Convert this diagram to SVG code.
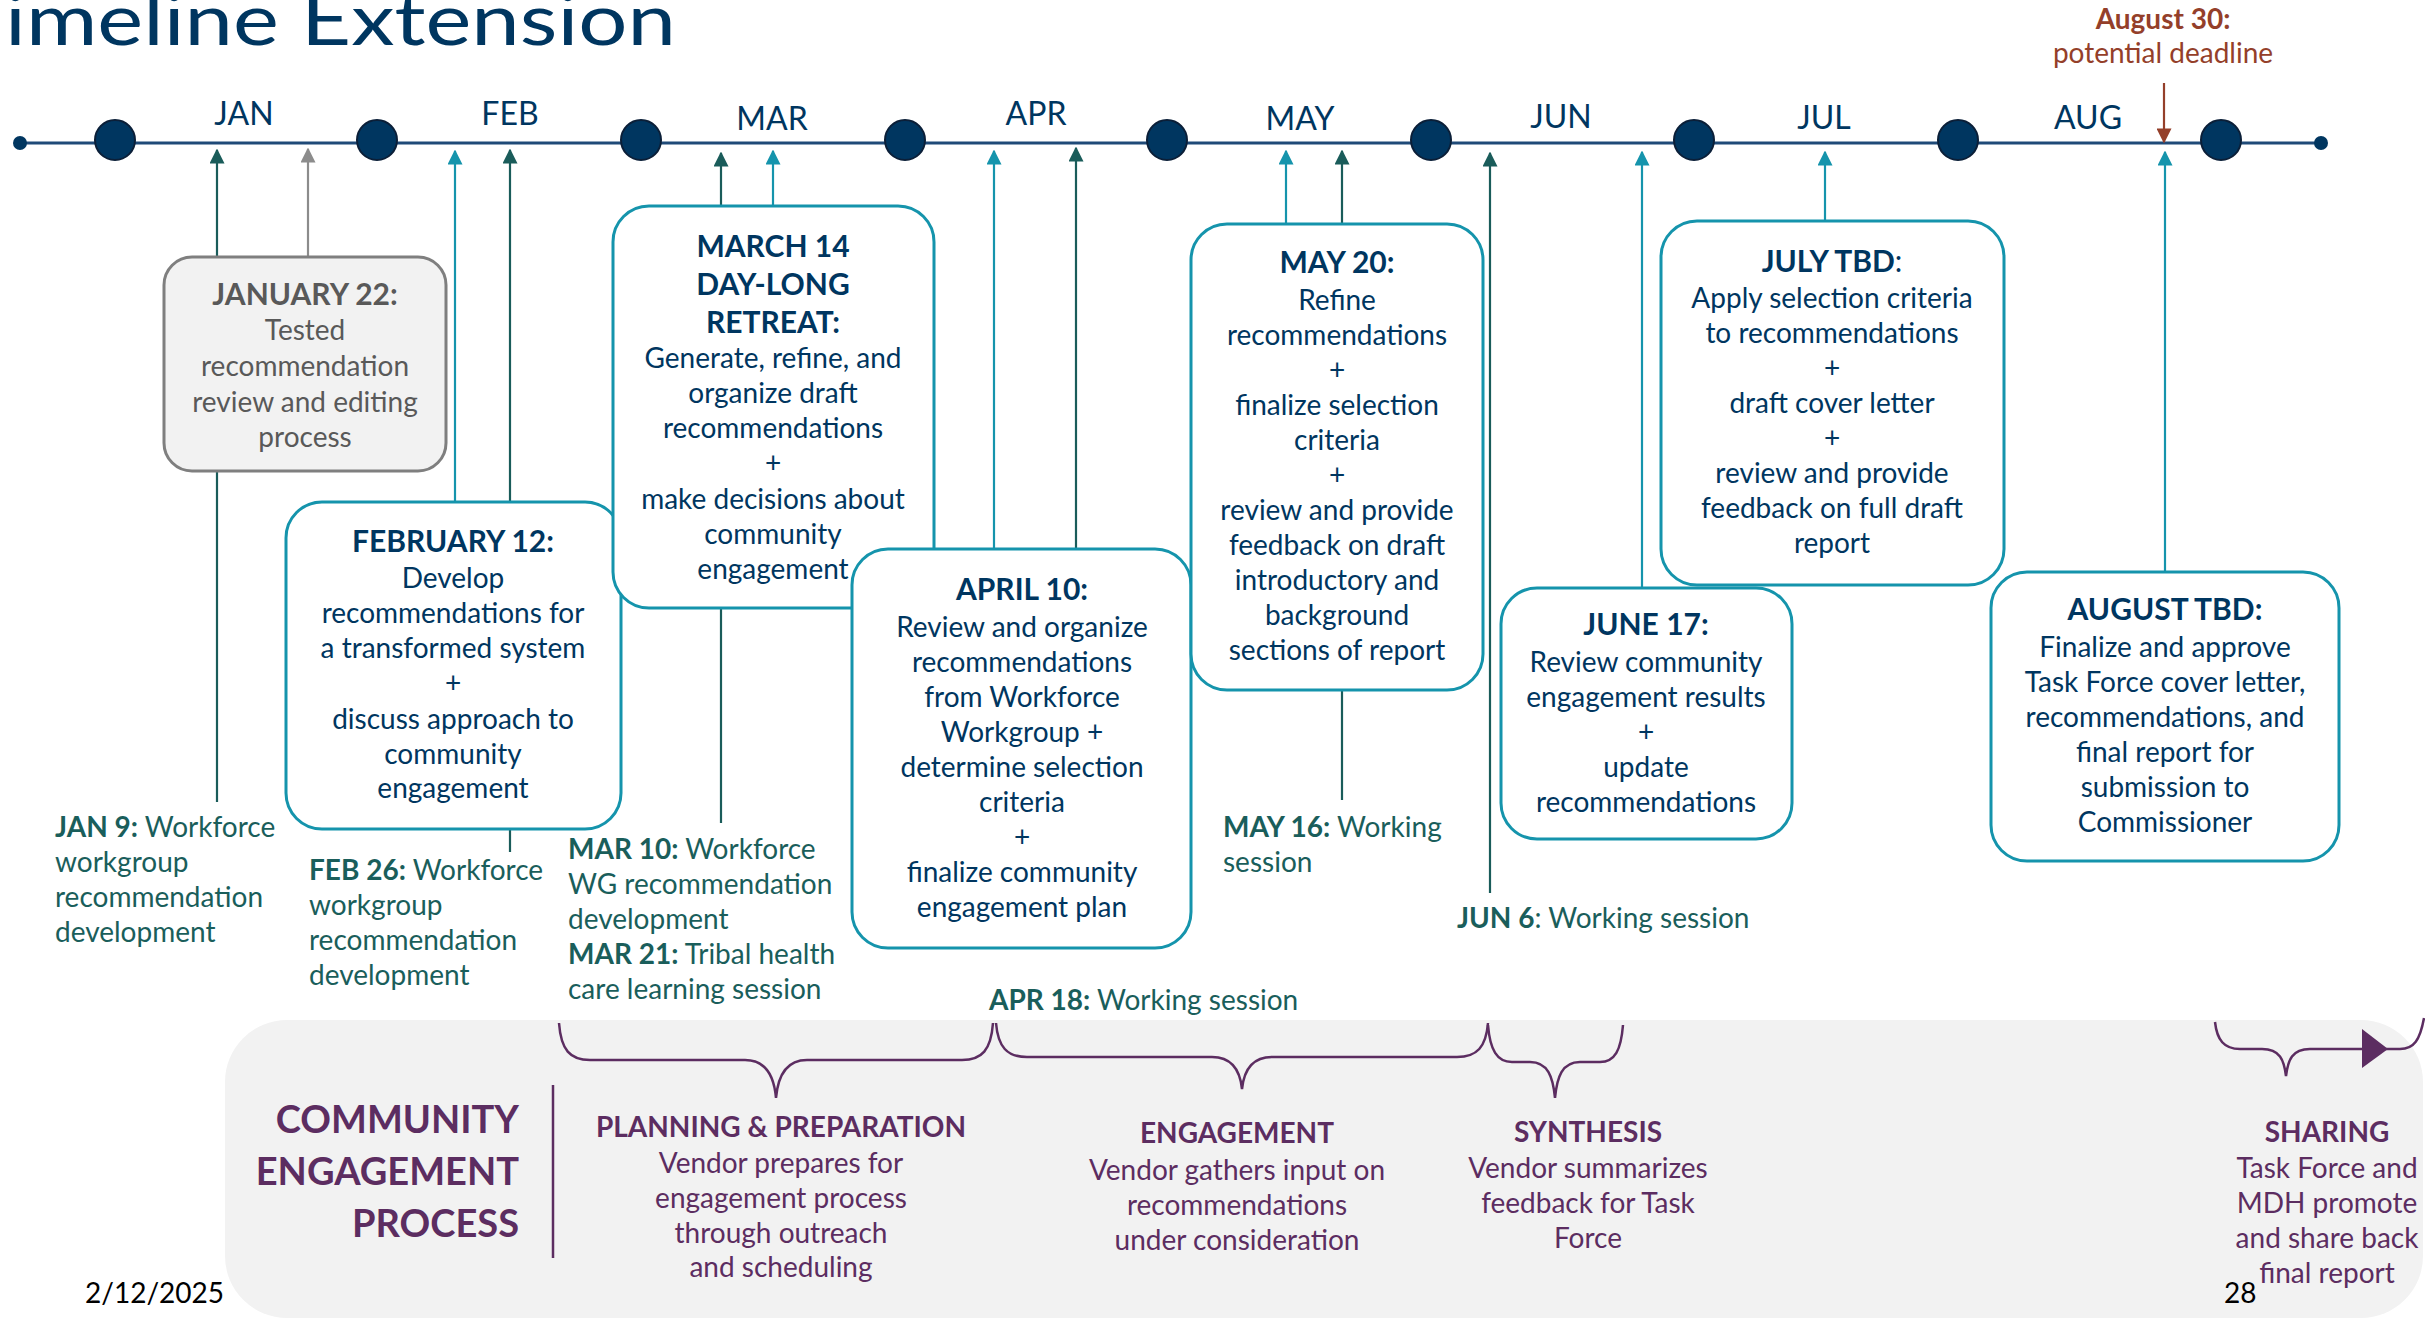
<svg xmlns="http://www.w3.org/2000/svg" width="2425" height="1318" viewBox="0 0 2425 1318">
<defs>
<style>
text{font-family:Lato,"Open Sans","Liberation Sans",sans-serif}
.tl{stroke:#1F4A78;stroke-width:3}
.dot{fill:#003660;stroke:#0B1F38;stroke-width:2}
.month{font-size:32px;fill:#003660;text-anchor:middle}
.box{fill:#fff;stroke:#1594AC;stroke-width:3}
.gbox{fill:#F2F2F2;stroke:#7F7F7F;stroke-width:3}
.bt{font-size:28px;fill:#003660;text-anchor:middle}
.gt{font-size:28px;fill:#595959;text-anchor:middle}
.h{font-weight:bold;font-size:30px}
.lbl{font-size:28px;fill:#1A5E5B}
.b{font-weight:bold}
.cd{stroke:#1A5C5A;stroke-width:2.2;fill:none}
.ct{stroke:#1594AC;stroke-width:2.2;fill:none}
.cg{stroke:#8C8C8C;stroke-width:2.2;fill:none}
.cb{stroke:#943F2A;stroke-width:2.2;fill:none}
.pur{fill:#5C2D61}
.pt{font-size:28px;fill:#5C2D61;text-anchor:middle}
.ph{font-weight:bold;font-size:28px}
.brace{stroke:#5C2D61;stroke-width:2.5;fill:none}
</style>
<marker id="mD" viewBox="0 0 10 10" refX="9" refY="5" markerWidth="15" markerHeight="15" markerUnits="userSpaceOnUse" orient="auto"><path d="M0,0 L10,5 L0,10 z" fill="#1A5C5A"/></marker>
<marker id="mT" viewBox="0 0 10 10" refX="9" refY="5" markerWidth="15" markerHeight="15" markerUnits="userSpaceOnUse" orient="auto"><path d="M0,0 L10,5 L0,10 z" fill="#1594AC"/></marker>
<marker id="mG" viewBox="0 0 10 10" refX="9" refY="5" markerWidth="15" markerHeight="15" markerUnits="userSpaceOnUse" orient="auto"><path d="M0,0 L10,5 L0,10 z" fill="#8C8C8C"/></marker>
<marker id="mB" viewBox="0 0 10 10" refX="9" refY="5" markerWidth="16" markerHeight="15" markerUnits="userSpaceOnUse" orient="auto"><path d="M0,0 L10,5 L0,10 z" fill="#943F2A"/></marker>
</defs>
<rect width="2425" height="1318" fill="#fff"/>

<text x="-46" y="45" font-size="72" fill="#003660" textLength="722" lengthAdjust="spacingAndGlyphs">Timeline Extension</text>

<g id="timeline">
<line class="tl" x1="20" y1="143" x2="2321" y2="143"/>
<circle cx="20" cy="143" r="7" fill="#003660"/>
<circle cx="2321" cy="143" r="7" fill="#003660"/>
<circle class="dot" cx="115" cy="140" r="20"/>
<circle class="dot" cx="377" cy="140" r="20"/>
<circle class="dot" cx="641" cy="140" r="20"/>
<circle class="dot" cx="905" cy="140" r="20"/>
<circle class="dot" cx="1167" cy="140" r="20"/>
<circle class="dot" cx="1431" cy="140" r="20"/>
<circle class="dot" cx="1694" cy="140" r="20"/>
<circle class="dot" cx="1958" cy="140" r="20"/>
<circle class="dot" cx="2221" cy="140" r="20"/>
<text class="month" x="244" y="125">JAN</text>
<text class="month" x="510" y="125">FEB</text>
<text class="month" x="772" y="130">MAR</text>
<text class="month" x="1036" y="125">APR</text>
<text class="month" x="1300" y="130">MAY</text>
<text class="month" x="1561" y="128">JUN</text>
<text class="month" x="1824" y="129">JUL</text>
<text class="month" x="2088" y="129">AUG</text>
</g>

<g id="connectors">
<line class="cd" x1="217" y1="802" x2="217" y2="150" marker-end="url(#mD)"/>
<line class="cg" x1="308" y1="257" x2="308" y2="149" marker-end="url(#mG)"/>
<line class="ct" x1="455" y1="502" x2="455" y2="151" marker-end="url(#mT)"/>
<line class="cd" x1="510" y1="852" x2="510" y2="150" marker-end="url(#mD)"/>
<line class="cd" x1="721" y1="823" x2="721" y2="153" marker-end="url(#mD)"/>
<line class="ct" x1="773" y1="206" x2="773" y2="151" marker-end="url(#mT)"/>
<line class="ct" x1="994" y1="549" x2="994" y2="151" marker-end="url(#mT)"/>
<line class="cd" x1="1076" y1="549" x2="1076" y2="148" marker-end="url(#mD)"/>
<line class="ct" x1="1286" y1="224" x2="1286" y2="151" marker-end="url(#mT)"/>
<line class="cd" x1="1342" y1="800" x2="1342" y2="151" marker-end="url(#mD)"/>
<line class="cd" x1="1490" y1="893" x2="1490" y2="153" marker-end="url(#mD)"/>
<line class="ct" x1="1642" y1="588" x2="1642" y2="152" marker-end="url(#mT)"/>
<line class="ct" x1="1825" y1="221" x2="1825" y2="152" marker-end="url(#mT)"/>
<line class="ct" x1="2165" y1="572" x2="2165" y2="152" marker-end="url(#mT)"/>
<line class="cb" x1="2164" y1="83" x2="2164" y2="142" marker-end="url(#mB)"/>
</g>

<g id="deadline">
<text x="2163" y="29" font-size="28" font-weight="bold" fill="#943F2A" text-anchor="middle">August 30:</text>
<text x="2163" y="63" font-size="28" fill="#943F2A" text-anchor="middle">potential deadline</text>
</g>

<g id="jan22">
<rect class="gbox" x="164" y="257" width="282" height="214" rx="28"/>
<text class="gt"><tspan class="b h" x="305" y="305">JANUARY 22:</tspan><tspan x="305" y="340">Tested</tspan><tspan x="305" y="376">recommendation</tspan><tspan x="305" y="412">review and editing</tspan><tspan x="305" y="447">process</tspan></text>
</g>

<g id="feb12">
<rect class="box" x="286" y="502" width="335" height="327" rx="36"/>
<text class="bt"><tspan class="b h" x="453" y="552">FEBRUARY 12:</tspan><tspan x="453" y="588">Develop</tspan><tspan x="453" y="623">recommendations for</tspan><tspan x="453" y="658">a transformed system</tspan><tspan x="453" y="693">+</tspan><tspan x="453" y="729">discuss approach to</tspan><tspan x="453" y="764">community</tspan><tspan x="453" y="798">engagement</tspan></text>
</g>

<g id="mar14">
<rect class="box" x="613" y="206" width="321" height="402" rx="36"/>
<text class="bt"><tspan class="b h" x="773" y="257">MARCH 14</tspan><tspan class="b h" x="773" y="295">DAY-LONG</tspan><tspan class="b h" x="773" y="333">RETREAT:</tspan><tspan x="773" y="368">Generate, refine, and</tspan><tspan x="773" y="403">organize draft</tspan><tspan x="773" y="438">recommendations</tspan><tspan x="773" y="473">+</tspan><tspan x="773" y="509">make decisions about</tspan><tspan x="773" y="544">community</tspan><tspan x="773" y="579">engagement</tspan></text>
</g>

<g id="apr10">
<rect class="box" x="852" y="549" width="339" height="399" rx="36"/>
<text class="bt"><tspan class="b h" x="1022" y="600">APRIL 10:</tspan><tspan x="1022" y="637">Review and organize</tspan><tspan x="1022" y="672">recommendations</tspan><tspan x="1022" y="707">from Workforce</tspan><tspan x="1022" y="742">Workgroup +</tspan><tspan x="1022" y="777">determine selection</tspan><tspan x="1022" y="812">criteria</tspan><tspan x="1022" y="847">+</tspan><tspan x="1022" y="882">finalize community</tspan><tspan x="1022" y="917">engagement plan</tspan></text>
</g>

<g id="may20">
<rect class="box" x="1191" y="224" width="292" height="466" rx="36"/>
<text class="bt"><tspan class="b h" x="1337" y="273">MAY 20:</tspan><tspan x="1337" y="310">Refine</tspan><tspan x="1337" y="345">recommendations</tspan><tspan x="1337" y="380">+</tspan><tspan x="1337" y="415">finalize selection</tspan><tspan x="1337" y="450">criteria</tspan><tspan x="1337" y="485">+</tspan><tspan x="1337" y="520">review and provide</tspan><tspan x="1337" y="555">feedback on draft</tspan><tspan x="1337" y="590">introductory and</tspan><tspan x="1337" y="625">background</tspan><tspan x="1337" y="660">sections of report</tspan></text>
</g>

<g id="jun17">
<rect class="box" x="1501" y="588" width="291" height="251" rx="36"/>
<text class="bt"><tspan class="b h" x="1646" y="635">JUNE 17:</tspan><tspan x="1646" y="672">Review community</tspan><tspan x="1646" y="707">engagement results</tspan><tspan x="1646" y="742">+</tspan><tspan x="1646" y="777">update</tspan><tspan x="1646" y="812">recommendations</tspan></text>
</g>

<g id="jultbd">
<rect class="box" x="1661" y="221" width="343" height="364" rx="36"/>
<text class="bt"><tspan class="b h" x="1832" y="272">JULY TBD<tspan font-weight="normal">:</tspan></tspan><tspan x="1832" y="308">Apply selection criteria</tspan><tspan x="1832" y="343">to recommendations</tspan><tspan x="1832" y="378">+</tspan><tspan x="1832" y="413">draft cover letter</tspan><tspan x="1832" y="448">+</tspan><tspan x="1832" y="483">review and provide</tspan><tspan x="1832" y="518">feedback on full draft</tspan><tspan x="1832" y="553">report</tspan></text>
</g>

<g id="augtbd">
<rect class="box" x="1991" y="572" width="348" height="289" rx="36"/>
<text class="bt"><tspan class="b h" x="2165" y="620">AUGUST TBD:</tspan><tspan x="2165" y="657">Finalize and approve</tspan><tspan x="2165" y="692">Task Force cover letter,</tspan><tspan x="2165" y="727">recommendations, and</tspan><tspan x="2165" y="762">final report for</tspan><tspan x="2165" y="797">submission to</tspan><tspan x="2165" y="832">Commissioner</tspan></text>
</g>

<g id="jan9"><text class="lbl"><tspan x="55" y="837"><tspan class="b">JAN 9:</tspan> Workforce</tspan><tspan x="55" y="872">workgroup</tspan><tspan x="55" y="907">recommendation</tspan><tspan x="55" y="942">development</tspan></text></g>
<g id="feb26"><text class="lbl"><tspan x="309" y="880"><tspan class="b">FEB 26:</tspan> Workforce</tspan><tspan x="309" y="915">workgroup</tspan><tspan x="309" y="950">recommendation</tspan><tspan x="309" y="985">development</tspan></text></g>
<g id="mar10"><text class="lbl"><tspan x="568" y="859"><tspan class="b">MAR 10:</tspan> Workforce</tspan><tspan x="568" y="894">WG recommendation</tspan><tspan x="568" y="929">development</tspan><tspan x="568" y="964"><tspan class="b">MAR 21:</tspan> Tribal health</tspan><tspan x="568" y="999">care learning session</tspan></text></g>
<g id="apr18"><text class="lbl" x="989" y="1010"><tspan class="b">APR 18:</tspan> Working session</text></g>
<g id="may16"><text class="lbl"><tspan x="1223" y="837"><tspan class="b">MAY 16:</tspan> Working</tspan><tspan x="1223" y="872">session</tspan></text></g>
<g id="jun6"><text class="lbl" x="1457" y="928"><tspan class="b">JUN 6</tspan>: Working session</text></g>

<g id="community-process">
<rect x="225" y="1020" width="2198" height="298" rx="62" fill="#F2F2F2"/>
<text class="pur" font-size="38" font-weight="bold" text-anchor="end"><tspan x="519" y="1133">COMMUNITY</tspan><tspan x="519" y="1185">ENGAGEMENT</tspan><tspan x="519" y="1237">PROCESS</tspan></text>
<line x1="553" y1="1085" x2="553" y2="1258" stroke="#5C2D61" stroke-width="2.5"/>
</g>

<g id="braces">
<path class="brace" d="M559,1023 C561,1050 570,1060 590,1060 L745,1060 C765,1060 774,1075 776,1098 C778,1075 787,1060 807,1060 L962,1060 C982,1060 991,1050 993,1023"/>
<path class="brace" d="M996,1023 C998,1047 1007,1057 1027,1057 L1212,1057 C1232,1057 1240,1070 1242,1089 C1244,1070 1252,1057 1272,1057 L1457,1057 C1477,1057 1486,1047 1488,1023"/>
<path class="brace" d="M1488,1025 C1490,1050 1497,1062 1512,1062 L1530,1062 C1548,1062 1553,1077 1555,1098 C1557,1077 1562,1062 1580,1062 L1600,1062 C1615,1062 1621,1050 1623,1025"/>
<path class="brace" d="M2215,1022 C2217,1040 2224,1049 2240,1049 L2262,1049 C2280,1049 2284,1060 2286,1076 C2288,1060 2292,1049 2310,1049 L2400,1049 C2414,1049 2420,1040 2424,1018"/>
<polygon points="2362,1029 2388,1049 2362,1068" fill="#5C2D61"/>
</g>

<g id="planning"><text class="pt"><tspan class="b ph" x="781" y="1137">PLANNING &amp; PREPARATION</tspan><tspan x="781" y="1173">Vendor prepares for</tspan><tspan x="781" y="1208">engagement process</tspan><tspan x="781" y="1243">through outreach</tspan><tspan x="781" y="1277">and scheduling</tspan></text></g>
<g id="engagement"><text class="pt"><tspan class="b ph" x="1237" y="1143">ENGAGEMENT</tspan><tspan x="1237" y="1180">Vendor gathers input on</tspan><tspan x="1237" y="1215">recommendations</tspan><tspan x="1237" y="1250">under consideration</tspan></text></g>
<g id="synthesis"><text class="pt"><tspan class="b ph" x="1588" y="1142">SYNTHESIS</tspan><tspan x="1588" y="1178">Vendor summarizes</tspan><tspan x="1588" y="1213">feedback for Task</tspan><tspan x="1588" y="1248">Force</tspan></text></g>
<g id="sharing"><text class="pt"><tspan class="b ph" x="2327" y="1142">SHARING</tspan><tspan x="2327" y="1178">Task Force and</tspan><tspan x="2327" y="1213">MDH promote</tspan><tspan x="2327" y="1248">and share back</tspan><tspan x="2327" y="1283">final report</tspan></text></g>

<g id="footer">
<text x="85" y="1303" font-size="28" fill="#000">2/12/2025</text>
<text x="2224" y="1303" font-size="28" fill="#000">28</text>
</g>
</svg>
